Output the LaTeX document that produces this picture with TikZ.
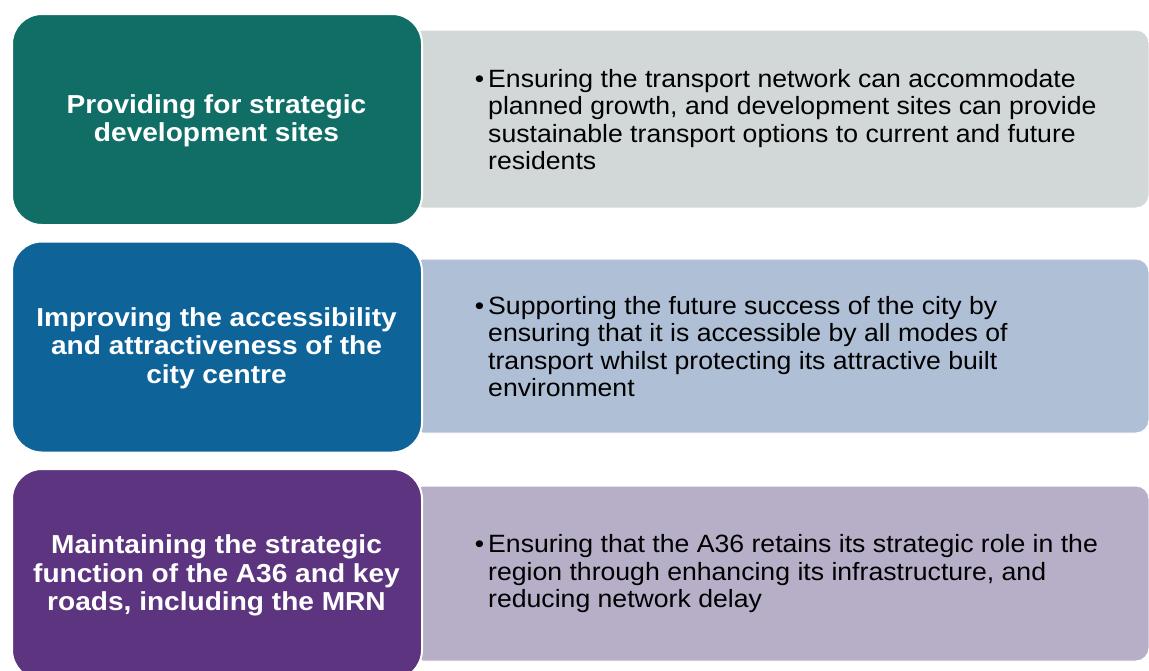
\documentclass[tikz,border=0pt]{standalone}
\usepackage{fontspec}
\setmainfont{Liberation Sans}
\newfontfamily\leftfont[FakeStretch=1.08]{Liberation Sans}
\newfontfamily\rightfont[FakeStretch=1.065]{Liberation Sans}
\definecolor{tealL}{RGB}{16,110,102}
\definecolor{tealR}{RGB}{210,216,216}
\definecolor{blueL}{RGB}{14,99,153}
\definecolor{blueR}{RGB}{175,191,214}
\definecolor{purpL}{RGB}{92,52,128}
\definecolor{purpR}{RGB}{183,174,200}
\begin{document}
\begin{tikzpicture}[x=1pt,y=-1pt,
  leftbox/.style={draw=white,line width=2pt,rounded corners=30pt},
  rightbox/.style={draw=white,line width=1pt,rounded corners=13pt},
  lefttext/.style={text=white,font=\leftfont\fontsize{26}{28.5}\selectfont\bfseries,align=center,inner sep=0pt},
  righttext/.style={text=black,font=\rightfont\fontsize{25}{27.5}\selectfont,align=left,anchor=west,inner sep=0pt}]
\useasboundingbox (0,0) rectangle (1149,670);
% row 1
\fill[tealR,rightbox] (410,30) rectangle (1149,208);
\node[leftbox,fill=tealL,minimum width=410pt,minimum height=211pt,anchor=north west] (l1) at (11,13) {};
\node[lefttext] (t1) at (216.5,121) {Providing for strategic\\development sites};
\node[righttext] (r1) at (488,119.5) {\llap{•\hspace{4pt}}Ensuring the transport network can accommodate\\planned growth, and development sites can provide\\sustainable transport options to current and future\\residents};
% row 2
\fill[blueR,rightbox] (410,259) rectangle (1149,433);
\node[leftbox,fill=blueL,minimum width=410pt,minimum height=211pt,anchor=north west] (l2) at (11,240.5) {};
\node[lefttext] (t2) at (216.5,348) {Improving the accessibility\\and attractiveness of the\\city centre};
\node[righttext] (r2) at (488,346.5) {\llap{•\hspace{4pt}}Supporting the future success of the city by\\ensuring that it is accessible by all modes of\\transport whilst protecting its attractive built\\environment};
% row 3
\fill[purpR,rightbox] (410,486) rectangle (1149,661);
\node[leftbox,fill=purpL,minimum width=410pt,minimum height=211pt,anchor=north west] (l3) at (11,468) {};
\node[lefttext] (t3) at (216.5,575.5) {Maintaining the strategic\\function of the A36 and key\\roads, including the MRN};
\node[righttext] (r3) at (488,574) {\llap{•\hspace{4pt}}Ensuring that the A36 retains its strategic role in the\\region through enhancing its infrastructure, and\\reducing network delay};
\end{tikzpicture}
\end{document}
